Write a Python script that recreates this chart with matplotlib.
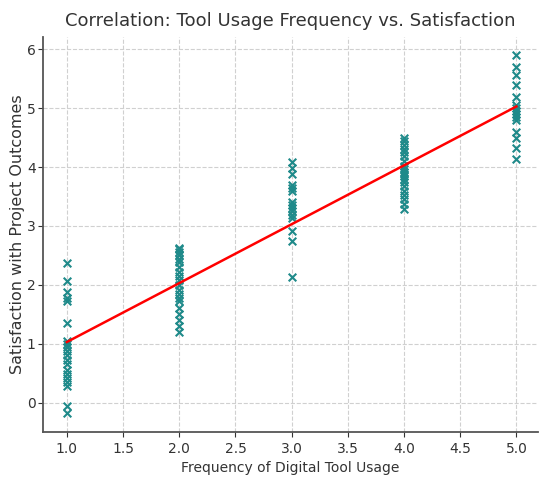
import numpy as np
import matplotlib
matplotlib.use("Agg")
import matplotlib.pyplot as plt

# frequency levels and satisfaction scores
freq_1 = [2.37, 2.07, 1.88, 1.78, 1.72, 1.35, 1.05, 1.0, 0.95, 0.88, 0.8, 0.72,
          0.65, 0.55, 0.48, 0.42, 0.35, 0.28, -0.05, -0.18]
freq_2 = [2.63, 2.6, 2.55, 2.5, 2.44, 2.38, 2.3, 2.22, 2.15, 2.08, 2.0, 1.92,
          1.85, 1.78, 1.72, 1.6, 1.5, 1.4, 1.3, 1.2]
freq_3 = [4.08, 3.98, 3.88, 3.7, 3.65, 3.6, 3.4, 3.35, 3.3, 3.25, 3.18, 3.14,
          2.92, 2.75, 2.13]
freq_4 = [4.5, 4.45, 4.38, 4.3, 4.25, 4.18, 4.1, 4.02, 3.97, 3.92, 3.88, 3.84,
          3.8, 3.75, 3.68, 3.6, 3.52, 3.45, 3.38, 3.28]
freq_5 = [5.9, 5.7, 5.56, 5.39, 5.19, 5.05, 5.0, 4.95, 4.9, 4.85, 4.8, 4.6,
          4.5, 4.32, 4.13]

groups = [1, 2, 3, 4, 5]
scores = [freq_1, freq_2, freq_3, freq_4, freq_5]

x = np.concatenate([[g] * len(s) for g, s in zip(groups, scores)]).astype(float)
y = np.concatenate(scores)

fig = plt.figure(figsize=(5.41, 4.79), dpi=100)
ax = fig.add_axes([0.080, 0.098, 0.914, 0.825])

ax.scatter(x, y, marker='x', color='#1f8a8a', s=30, linewidths=1.5, zorder=3)

# regression line
m, b = np.polyfit(x, y, 1)
xs = np.array([1.0, 5.0])
ax.plot(xs, m * xs + b, color='red', linewidth=1.8, zorder=4)

ax.set_xlim(0.79, 5.19)
ax.set_ylim(-0.5, 6.21)
ticks = np.arange(1.0, 5.01, 0.5)
ax.set_xticks(ticks)
ax.set_xticklabels([f"{t:.1f}" for t in ticks])
ax.set_yticks(range(0, 7))

ax.grid(True, linestyle='--', color='#d0d0d0', linewidth=0.8)
ax.set_axisbelow(True)
ax.spines['top'].set_visible(False)
ax.spines['right'].set_visible(False)
for sp in ['left', 'bottom']:
    ax.spines[sp].set_color('#555555')
    ax.spines[sp].set_linewidth(1.3)

ax.tick_params(labelsize=10, colors='#333333', length=3.5)
ax.tick_params(axis='y', pad=2)
ax.set_title("Correlation: Tool Usage Frequency vs. Satisfaction", fontsize=13, color='#333333', pad=8)
ax.set_xlabel("Frequency of Digital Tool Usage", fontsize=10, color='#333333')
ax.set_ylabel("Satisfaction with Project Outcomes", fontsize=11.5, color='#333333')
ax.yaxis.set_label_coords(-0.036, 0.5)

fig.savefig("out.png", dpi=100)
